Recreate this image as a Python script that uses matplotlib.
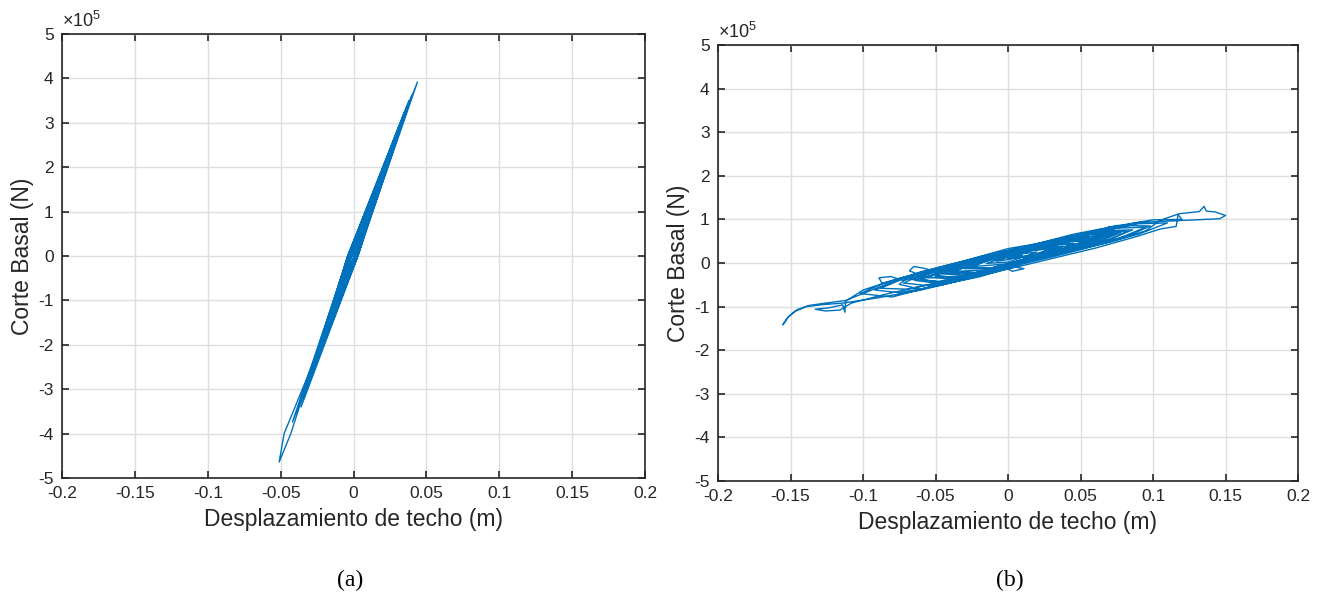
import matplotlib
matplotlib.use("Agg")
import matplotlib.pyplot as plt

a_disp = [0.000, 0.009, 0.0015, -0.012, -0.002, 0.016, 0.002, -0.019, -0.0025, 0.024,
          0.0025, -0.027, -0.003, 0.031, 0.003, -0.033, -0.0035, 0.0439,
          0.0025, -0.0476, -0.051,
          -0.043, -0.004, 0.036,
          0.002, -0.0419,
          -0.0035, 0.040, 0.003, -0.036, -0.003, 0.038, 0.0015, -0.034,
          -0.004, 0.035, 0.001, -0.033, -0.002, 0.037, 0.0025, -0.031,
          -0.0035, 0.033, 0.0005, -0.029, -0.0025, 0.030, 0.002, -0.027,
          -0.003, 0.031, 0.0015, -0.025, -0.0015, 0.027, 0.003, -0.023,
          -0.004, 0.025, 0.001, -0.021, -0.002, 0.022, 0.0025, -0.019,
          -0.003, 0.019, 0.0005, -0.016, -0.0015, 0.016, 0.002, -0.013,
          -0.0025, 0.012, 0.001, -0.010, -0.002, 0.008, 0.0005, -0.006,
          -0.001, 0.003, 0.000]
a_shear = [0.0, 0.85, 0.0, -1.10, 0.0, 1.50, 0.0, -1.75, 0.0, 2.25,
           0.0, -2.45, 0.0, 2.90, 0.0, -3.05, 0.0, 3.92,
           0.0, -4.00, -4.64,
           -4.00, 0.0, 3.30,
           0.0, -3.74,
           0.0, 3.62, 0.0, -3.40, 0.0, 3.50, 0.0, -3.20,
           0.0, 3.25, 0.0, -3.05, 0.0, 3.40, 0.0, -2.90,
           0.0, 3.05, 0.0, -2.70, 0.0, 2.80, 0.0, -2.50,
           0.0, 2.90, 0.0, -2.30, 0.0, 2.50, 0.0, -2.15,
           0.0, 2.30, 0.0, -1.95, 0.0, 2.05, 0.0, -1.75,
           0.0, 1.75, 0.0, -1.50, 0.0, 1.45, 0.0, -1.20,
           0.0, 1.10, 0.0, -0.95, 0.0, 0.75, 0.0, -0.55,
           0.0, 0.30, 0.0]

b_disp = [0.000,
          0.015, 0.030,
          0.012, -0.010, -0.028,
          -0.012, 0.015, 0.032, 0.045,
          0.028, 0.002, -0.022, -0.040,
          -0.020, -0.005, 0.003, 0.011, 0.001, 0.030, 0.055,
          0.040, 0.015, -0.015, -0.035, -0.050,
          -0.035, -0.005, 0.025, 0.050, 0.068,
          0.0695, 0.066, 0.045, 0.020, -0.010, -0.040, -0.060,
          -0.045, -0.015, 0.015, 0.045, 0.070, 0.082,
          0.065, 0.035, 0.005, -0.025, -0.050, -0.058, -0.065, -0.068, -0.062, -0.070, -0.075,
          -0.060, -0.030, 0.000, 0.030, 0.060, 0.085, 0.098,
          0.075, 0.045, 0.015, -0.015, -0.045, -0.072, -0.081, -0.089, -0.087, -0.081, -0.092,
          -0.075, -0.045, -0.015, 0.015, 0.045, 0.075, 0.095, 0.105, 0.118, 0.132, 0.1352,
          0.1368, 0.143, 0.150, 0.146, 0.130, 0.116,
          0.090, 0.060, 0.030, 0.000, -0.030, -0.060, -0.085, -0.100, -0.112, -0.128,
          -0.1374, -0.1454, -0.1511, -0.1553,
          -0.1525, -0.147, -0.139, -0.128, -0.114, -0.090, -0.060, -0.030, 0.000, 0.030,
          0.060, 0.090, 0.105, 0.116, 0.1173, 0.120,
          0.100, 0.075, 0.045, 0.015, -0.015, -0.045, -0.075, -0.100, -0.112, -0.1125,
          -0.114, -0.124, -0.133, -0.126, -0.116, -0.108,
          -0.085, -0.055, -0.025, 0.005, 0.035, 0.065, 0.090, 0.110,
          0.090, 0.060, 0.030, 0.000, -0.030, -0.060, -0.085, -0.102,
          -0.080, -0.050, -0.020, 0.010, 0.040, 0.070, 0.095,
          0.075, 0.045, 0.015, -0.015, -0.045, -0.070, -0.088,
          -0.070, -0.040, -0.010, 0.020, 0.050, 0.070, 0.086,
          0.065, 0.035, 0.005, -0.025, -0.055, -0.072,
          -0.055, -0.025, 0.005, 0.035, 0.060, 0.078,
          0.060, 0.030, 0.000, -0.030, -0.050, -0.064,
          -0.050, -0.020, 0.010, 0.040, 0.060, 0.072,
          0.055, 0.025, -0.005, -0.035, -0.056,
          -0.040, -0.010, 0.020, 0.050, 0.066,
          0.050, 0.020, -0.010, -0.035, -0.050,
          -0.035, -0.005, 0.025, 0.045, 0.060,
          0.040, 0.010, -0.020, -0.044,
          -0.025, 0.005, 0.030, 0.052,
          0.035, 0.005, -0.020, -0.038,
          -0.020, 0.010, 0.030, 0.046,
          0.025, -0.005, -0.030,
          -0.010, 0.015, 0.038,
          0.020, -0.005, -0.024,
          0.000, 0.015, 0.030,
          0.010, -0.015,
          0.000, 0.020,
          0.006, -0.008,
          0.001, 0.010,
          0.002,
          0.020, 0.0425, 0.058, 0.070,
          0.0575, 0.0275, -0.0025, -0.0325, -0.0525, -0.066,
          -0.0475, -0.0175, 0.0125, 0.0425, 0.062, 0.076,
          0.0575, 0.0275, -0.0025, -0.0325, -0.058,
          -0.0325, -0.0025, 0.0275, 0.0475, 0.064,
          0.0475, 0.0175, -0.0125, -0.0325, -0.046,
          -0.0275, 0.0025, 0.0325, 0.056,
          0.0375, 0.0075, -0.0225, -0.040,
          -0.0175, 0.0125, 0.034,
          0.0175, 0.000]
b_shear = [0.10,
           0.15, 0.33,
           0.30, 0.10, -0.10,
           -0.12, 0.12, 0.30, 0.45,
           0.42, 0.28, -0.02, -0.22,
           -0.25, -0.05, -0.19, -0.13, -0.07, 0.19, 0.53,
           0.55, 0.40, 0.10, -0.05, -0.30,
           -0.38, -0.10, 0.15, 0.40, 0.62,
           0.84, 0.70, 0.62, 0.42, 0.15, -0.10, -0.37,
           -0.45, -0.25, 0.05, 0.30, 0.52, 0.73,
           0.72, 0.50, 0.30, 0.02, -0.20, -0.12, -0.08, -0.18, -0.26, -0.36, -0.49,
           -0.60, -0.35, -0.05, 0.15, 0.42, 0.65, 0.85,
           0.86, 0.62, 0.38, 0.07, -0.15, -0.40, -0.31, -0.34, -0.46, -0.47, -0.62,
           -0.68, -0.50, -0.25, 0.05, 0.28, 0.52, 0.74, 0.98, 1.13, 1.18, 1.30,
           1.19, 1.17, 1.09, 1.015, 0.99, 0.97,
           0.93, 0.74, 0.50, 0.33, 0.05, -0.20, -0.50, -0.70, -0.86, -0.93,
           -0.975, -1.07, -1.22, -1.42,
           -1.27, -1.11, -1.00, -0.955, -0.92, -0.80, -0.62, -0.38, -0.14, 0.10,
           0.34, 0.62, 0.78, 0.84, 1.11, 1.00,
           0.99, 0.85, 0.66, 0.40, 0.18, -0.08, -0.35, -0.62, -0.88, -1.13,
           -0.96, -1.03, -1.06, -1.10, -1.08, -0.92,
           -0.72, -0.50, -0.28, -0.05, 0.20, 0.45, 0.66, 0.92,
           0.90, 0.70, 0.52, 0.28, 0.04, -0.22, -0.45, -0.70,
           -0.78, -0.52, -0.32, -0.02, 0.22, 0.48, 0.82,
           0.80, 0.62, 0.36, 0.14, -0.12, -0.33, -0.58,
           -0.60, -0.40, -0.18, 0.12, 0.34, 0.55, 0.76,
           0.74, 0.50, 0.26, 0.00, -0.20, -0.46,
           -0.52, -0.30, -0.02, 0.24, 0.46, 0.70,
           0.70, 0.47, 0.22, -0.02, -0.18, -0.40,
           -0.46, -0.28, 0.02, 0.25, 0.44, 0.65,
           0.66, 0.44, 0.20, -0.06, -0.33,
           -0.36, -0.14, 0.10, 0.36, 0.60,
           0.60, 0.40, 0.16, -0.04, -0.28,
           -0.34, -0.06, 0.16, 0.36, 0.56,
           0.52, 0.30, 0.06, -0.23,
           -0.24, -0.02, 0.22, 0.50,
           0.50, 0.32, 0.02, -0.19,
           -0.22, 0.00, 0.20, 0.45,
           0.42, 0.22, -0.13,
           -0.12, 0.12, 0.39,
           0.36, 0.18, -0.08,
           -0.02, 0.14, 0.33,
           0.26, -0.01,
           0.02, 0.25,
           0.20, 0.04,
           0.08, 0.17,
           0.11,
           0.20, 0.36, 0.56, 0.64,
           0.62, 0.36, 0.18, -0.06, -0.22, -0.38,
           -0.42, -0.20, 0.10, 0.34, 0.50, 0.69,
           0.66, 0.42, 0.14, -0.10, -0.34,
           -0.30, -0.08, 0.22, 0.38, 0.58,
           0.54, 0.36, 0.12, -0.04, -0.25,
           -0.28, 0.00, 0.26, 0.52,
           0.48, 0.26, 0.04, -0.20,
           -0.16, 0.08, 0.36,
           0.30, 0.10]

x_ticks = [-0.2, -0.15, -0.1, -0.05, 0, 0.05, 0.1, 0.15, 0.2]
x_tick_labels = ['-0.2', '-0.15', '-0.1', '-0.05', '0', '0.05', '0.1', '0.15', '0.2']
y_ticks = [-5, -4, -3, -2, -1, 0, 1, 2, 3, 4, 5]

plt.rcParams['font.family'] = ['Liberation Sans', 'DejaVu Sans']
plt.rcParams['mathtext.fontset'] = 'custom'
plt.rcParams['mathtext.rm'] = 'Liberation Sans'

dark = '#262626'
blue = '#0072BD'

fig = plt.figure(figsize=(13.19, 5.95), dpi=100)
ax1 = fig.add_axes([62/1319, 117/595, 583/1319, 444/595])
ax2 = fig.add_axes([718/1319, 114/595, 580/1319, 436/595])

for ax, xs, ys in [(ax1, a_disp, a_shear), (ax2, b_disp, b_shear)]:
    ax.plot(xs, ys, color=blue, lw=1.0)
    ax.set_xlim(-0.2, 0.2)
    ax.set_ylim(-5, 5)
    ax.set_xticks(x_ticks)
    ax.set_xticklabels(x_tick_labels)
    ax.set_yticks(y_ticks)
    ax.set_yticklabels([str(t) for t in y_ticks])
    ax.grid(True, color='#dedede', lw=1.0)
    ax.set_axisbelow(True)
    ax.tick_params(direction='in', top=True, right=True, length=5, width=1.2,
                   colors=dark, labelsize=12.5, pad=6)
    for s in ax.spines.values():
        s.set_linewidth(1.2)
        s.set_color(dark)
    ax.set_xlabel('Desplazamiento de techo (m)', fontsize=16.5, color=dark, labelpad=5)
    ax.set_ylabel('Corte Basal (N)', fontsize=16.5, color=dark, labelpad=3)
    ax.text(0.0, 1.006, r'$\times\mathregular{10^5}$', transform=ax.transAxes,
            fontsize=13, color=dark, ha='left', va='bottom')

fig.text(350/1319, 1 - 580/595, '(a)', family='Liberation Serif', fontsize=17,
         ha='center', va='center')
fig.text(1010/1319, 1 - 580/595, '(b)', family='Liberation Serif', fontsize=17,
         ha='center', va='center')

fig.savefig('out.png', dpi=100)
